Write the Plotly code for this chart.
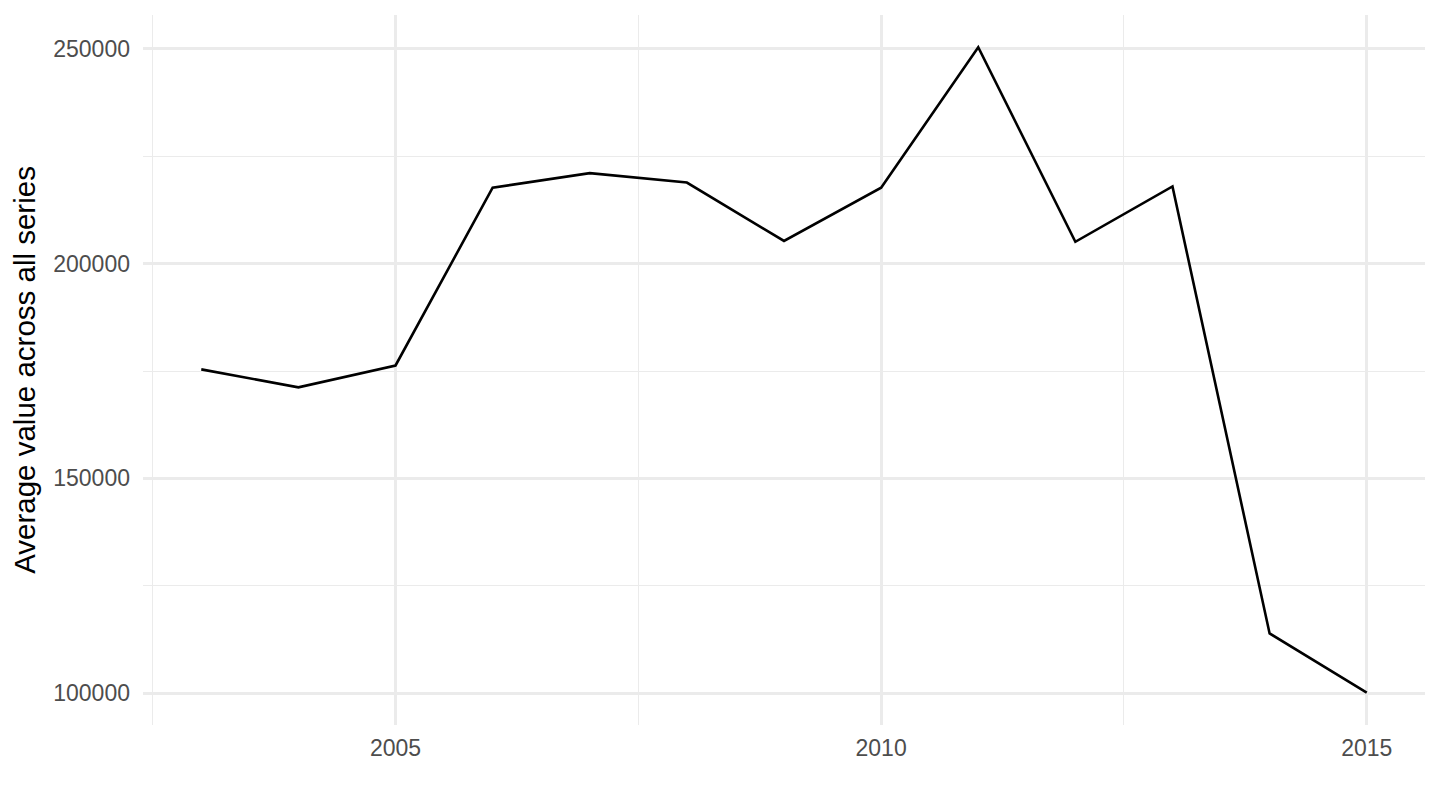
import plotly.graph_objects as go

# Yearly averages
years = [2003, 2004, 2005, 2006, 2007, 2008, 2009, 2010, 2011, 2012, 2013, 2014, 2015]
avg_value = [175400, 171200, 176300, 217700, 221100, 218900, 205300,
             217700, 250400, 205100, 218000, 113900, 100100]

x_ticks = [2005, 2010, 2015]
y_ticks = [100000, 150000, 200000, 250000]
y_title = "Average value across all series"

GRID = "#ebebeb"
TICK_FONT = dict(family="Liberation Sans, Arial, sans-serif", size=23, color="#4d4d4d")

fig = go.Figure()
fig.add_trace(go.Scatter(
    x=years,
    y=avg_value,
    mode="lines",
    line=dict(color="black", width=2.6),
    showlegend=False,
))

# ggplot-style 5% expansion on both axes
x_pad = (max(years) - min(years)) * 0.05
y_pad = (max(avg_value) - min(avg_value)) * 0.05

# page body keeps its 8px default margin, so the figure is sized to fit inside it
fig.update_layout(
    width=1424,
    height=794,
    margin=dict(l=135, r=7, t=7, b=77),
    plot_bgcolor="white",
    paper_bgcolor="white",
    font=dict(family="Liberation Sans, Arial, sans-serif"),
    xaxis=dict(
        range=[min(years) - x_pad, max(years) + x_pad],
        tickvals=x_ticks,
        ticktext=[str(v) for v in x_ticks],
        showgrid=True, gridcolor=GRID, gridwidth=2.6,
        minor=dict(showgrid=True, gridcolor=GRID, gridwidth=1.3,
                   tickvals=[2002.5, 2007.5, 2012.5]),
        zeroline=False, showline=False, ticks="",
        tickfont=TICK_FONT,
        ticklabelstandoff=7,
    ),
    yaxis=dict(
        range=[min(avg_value) - y_pad, max(avg_value) + y_pad],
        tickvals=y_ticks,
        ticktext=[str(v) for v in y_ticks],
        showgrid=True, gridcolor=GRID, gridwidth=2.6,
        minor=dict(showgrid=True, gridcolor=GRID, gridwidth=1.3,
                   tickvals=[125000, 175000, 225000]),
        zeroline=False, showline=False, ticks="",
        tickfont=TICK_FONT,
        ticklabelstandoff=12,
        title=dict(text=y_title, standoff=8,
                   font=dict(family="Liberation Sans, Arial, sans-serif", size=29.5, color="black")),
    ),
)

fig.write_html("out.html")
